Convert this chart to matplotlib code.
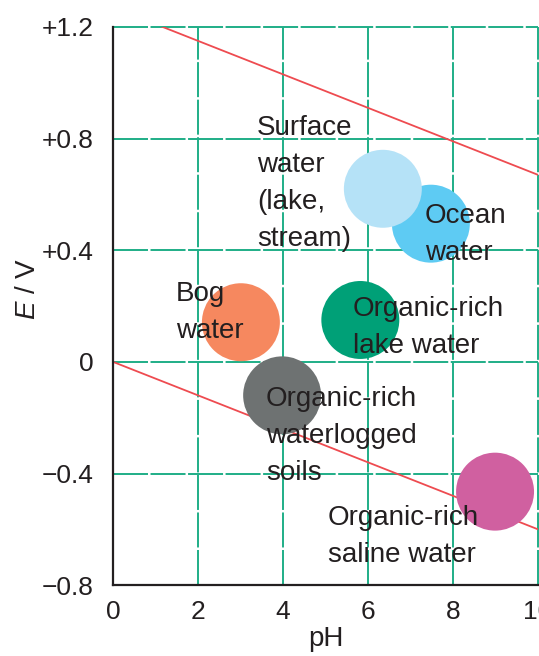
import matplotlib
matplotlib.use("Agg")
import matplotlib.pyplot as plt

plt.rcParams['font.family'] = ['Liberation Sans', 'DejaVu Sans']
plt.rcParams['mathtext.fontset'] = 'custom'
plt.rcParams['mathtext.it'] = 'Liberation Sans:italic'
plt.rcParams['mathtext.rm'] = 'Liberation Sans'

# --- data ---
names = ["Surface water", "Ocean water", "Bog water", "Organic-rich lake water",
         "Organic-rich waterlogged soils", "Organic-rich saline water"]
labels = ["Surface\nwater\n(lake,\nstream)", "Ocean\nwater", "Bog\nwater",
          "Organic-rich\nlake water", "Organic-rich\nwaterlogged\nsoils",
          "Organic-rich\nsaline water"]
ph = [6.35, 7.48, 3.01, 5.82, 3.98, 8.99]
E = [0.62, 0.495, 0.142, 0.150, -0.120, -0.465]
colors = ["#b5e2f7", "#5ecbf3", "#f6885f", "#00a077", "#6e7272", "#d060a0"]
label_x = [3.39, 7.34, 1.48, 5.65, 3.60, 5.06]
label_y = [0.416, 0.365, 0.085, 0.031, -0.422, -0.717]   # baseline of last line

line_ph = [0, 10]
E_upper = [1.27, 0.67]
E_lower = [0.0, -0.60]

xticks = [0, 2, 4, 6, 8, 10]
yticks = [-0.8, -0.4, 0, 0.4, 0.8, 1.2]
ytick_labels = ["\u22120.8", "\u22120.4", "0", "+0.4", "+0.8", "+1.2"]

# --- figure ---
fig = plt.figure(figsize=(5.39, 6.56), dpi=100)
ax = fig.add_axes([0.2096, 0.108, 0.7885, 0.851])
ax.set_xlim(0, 10)
ax.set_ylim(-0.8, 1.2)

grid_color = "#1fae87"
dash = (0, (18, 1.3))
for xv in xticks:
    ax.axvline(xv, color=grid_color, lw=1.4, ls=dash, clip_on=False, zorder=1)
for yv in yticks:
    ax.axhline(yv, color=grid_color, lw=1.4, ls=dash, clip_on=False, zorder=1)

ax.plot(line_ph, E_upper, color="#ee4b50", lw=1.3, zorder=2)
ax.plot(line_ph, E_lower, color="#ee4b50", lw=1.3, zorder=2)

# draw in an order where light blue sits on top of ocean
order = [1, 0, 2, 3, 4, 5]
for i in order:
    ax.scatter(ph[i], E[i], s=3150, color=colors[i], edgecolors='none', zorder=3)

for i in range(len(labels)):
    ax.text(label_x[i], label_y[i], labels[i], fontsize=20, color="#231f20",
            ha='left', va='baseline', linespacing=1.55, zorder=5)

ax.set_xticks(xticks)
ax.set_xticklabels([str(v) for v in xticks])
ax.set_yticks(yticks)
ax.set_yticklabels(ytick_labels)
ax.tick_params(axis='both', length=0, labelsize=19, colors="#231f20")
ax.tick_params(axis='y', pad=14)
ax.tick_params(axis='x', pad=11)

for s in ['top', 'right']:
    ax.spines[s].set_visible(False)
for s in ['left', 'bottom']:
    ax.spines[s].set_color("#231f20")
    ax.spines[s].set_linewidth(1.6)
    ax.spines[s].set_zorder(6)

ax.set_xlabel("pH", fontsize=20, color="#231f20", labelpad=1)
ax.text(-0.20, 0.53, "$E$ / V", transform=ax.transAxes, rotation=90,
        fontsize=20, color="#231f20", ha='center', va='center')

fig.savefig("out.png", dpi=100)
